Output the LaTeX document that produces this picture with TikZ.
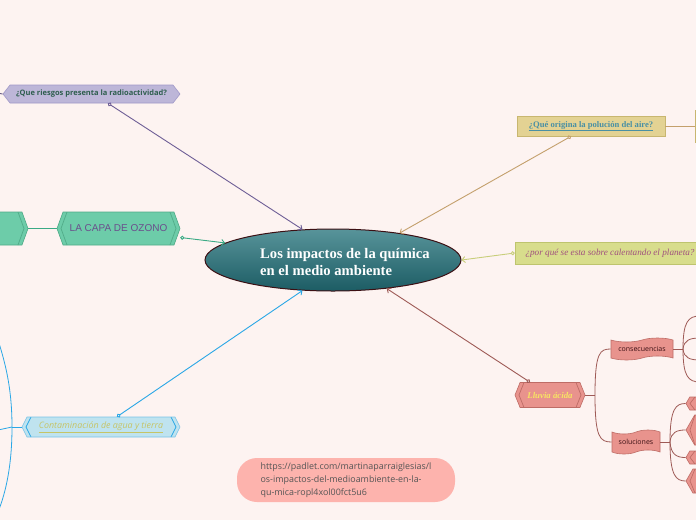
\documentclass[tikz,border=0pt]{standalone}
\usepackage{fontspec}
\setmainfont{Liberation Serif}
\newfontfamily\sansfuente{Open Sans}
\newfontfamily\rotulofuente{Liberation Sans}
\usepackage{tikz}
\usetikzlibrary{
  shapes.geometric,
  shapes.symbols,
  arrows.meta,
  positioning
}
\definecolor{Fondo}{RGB}{253, 243, 241}
\definecolor{TealTop}{RGB}{88, 148, 154}
\definecolor{TealBottom}{RGB}{28, 92, 100}
\definecolor{Granate}{RGB}{60, 16, 20}
\definecolor{Lavanda}{RGB}{189, 182, 216}
\definecolor{LavandaBorde}{RGB}{160, 152, 200}
\definecolor{LavandaLinea}{RGB}{110, 94, 150}
\definecolor{VerdeOscuro}{RGB}{46, 94, 78}
\definecolor{Menta}{RGB}{109, 204, 169}
\definecolor{MentaBorde}{RGB}{80, 170, 135}
\definecolor{MentaLinea}{RGB}{59, 170, 133}
\definecolor{Morado}{RGB}{107, 78, 140}
\definecolor{Caqui}{RGB}{227, 210, 147}
\definecolor{CaquiBorde}{RGB}{200, 182, 112}
\definecolor{CaquiLinea}{RGB}{196, 160, 108}
\definecolor{AzulTexto}{RGB}{74, 144, 164}
\definecolor{Lima}{RGB}{216, 221, 140}
\definecolor{LimaBorde}{RGB}{190, 196, 110}
\definecolor{LimaLinea}{RGB}{200, 206, 122}
\definecolor{Ciruela}{RGB}{160, 80, 126}
\definecolor{Salmon}{RGB}{232, 147, 141}
\definecolor{SalmonBorde}{RGB}{190, 108, 102}
\definecolor{SalmonLinea}{RGB}{158, 90, 86}
\definecolor{Amarillo}{RGB}{247, 228, 99}
\definecolor{Celeste}{RGB}{191, 227, 239}
\definecolor{CelesteBorde}{RGB}{120, 195, 232}
\definecolor{AzulLinea}{RGB}{42, 167, 230}
\definecolor{Oliva}{RGB}{198, 196, 102}
\definecolor{Rosa}{RGB}{253, 179, 173}
\definecolor{GrisTexto}{RGB}{85, 85, 85}
\tikzset{
    hexa/.style={signal, signal to=east and west, draw, inner sep=0pt, line width=0.6pt},
    chevron/.style 2 args={path picture={
        \draw[#1, line width=0.7pt]
          ([xshift=#2+4pt]path picture bounding box.north west) -- ([xshift=4pt]path picture bounding box.west) -- ([xshift=#2+4pt]path picture bounding box.south west)
          ([xshift=-#2-4pt]path picture bounding box.north east) -- ([xshift=-4pt]path picture bounding box.east) -- ([xshift=-#2-4pt]path picture bounding box.south east);
    }},
    caja/.style={rectangle, draw, inner sep=0pt, line width=0.6pt},
    cinta/.style={tape, draw=SalmonBorde, fill=Salmon, line width=0.6pt, tape bend height=4pt, inner sep=0pt,
        font=\sansfuente\fontsize{7}{8}\selectfont, text=Granate},
    conector/.style={line width=0.9pt, {Circle[open, length=4pt, width=4pt]}-{Straight Barb[length=3pt, width=6pt]}},
    rama/.style={line width=0.8pt}
}

\begin{document}
\begin{tikzpicture}[x=1pt, y=-1pt]
    \useasboundingbox (0,0) rectangle (696,520);
    \fill[Fondo] (0,0) rectangle (696,520);
    \clip (0,0) rectangle (696,520);

    % centro
    \node[ellipse, draw=Granate, line width=1pt, top color=TealTop, bottom color=TealBottom,
          minimum width=256pt, minimum height=62pt] (elipse) at (333,260) {};
    \node[align=left, text=white, font=\bfseries\fontsize{14.6}{17}\selectfont] (titulo) at (345,262)
        {Los impactos de la química\\en el medio ambiente};

    % ramas principales
    \node[hexa, fill=Lavanda, draw=LavandaBorde, signal pointer angle=104, minimum width=177pt, minimum height=18pt,
          font=\sansfuente\bfseries\fontsize{7.5}{8}\selectfont, text=VerdeOscuro] (radio) at (91.5,94)
        {¿Que riesgos presenta la radioactividad?};
    \node[hexa, fill=Menta, draw=MentaBorde, chevron={MentaBorde}{6pt}, signal pointer angle=140,
          minimum width=123pt, minimum height=33pt,
          font=\rotulofuente\fontsize{10}{11}\selectfont, text=Morado] (ozono) at (118.5,228.5)
        {LA CAPA DE OZONO};
    \node[hexa, fill=Menta, draw=MentaBorde, chevron={MentaBorde}{6pt}, signal pointer angle=140,
          minimum width=116pt, minimum height=33pt] (ozonoPrev) at (-30,228.5) {};
    \node[caja, fill=Caqui, draw=CaquiBorde, minimum width=148pt, minimum height=20pt,
          font=\bfseries\fontsize{8.6}{9}\selectfont, text=AzulTexto] (aire) at (591,126)
        {\underline{¿Qué origina la polución del aire?}};
    \node[caja, fill=Caqui, draw=CaquiBorde, minimum width=100pt, minimum height=32pt] (aireSig) at (745,126) {};
    \node[caja, fill=Lima, draw=LimaBorde, minimum width=190pt, minimum height=22pt,
          font=\itshape\fontsize{9.2}{10}\selectfont, text=Ciruela] (planeta) at (610,253)
        {¿por qué se esta sobre calentando el planeta?};
    \node[hexa, fill=Salmon, draw=SalmonBorde, chevron={SalmonBorde}{5pt}, signal pointer angle=136,
          minimum width=70pt, minimum height=25pt,
          font=\bfseries\itshape\fontsize{8.8}{9}\selectfont, text=Amarillo] (lluvia) at (550,395)
        {Lluvia ácida};
    \node[hexa, fill=Celeste, draw=CelesteBorde, chevron={AzulLinea}{5pt}, signal pointer angle=127,
          minimum width=158pt, minimum height=20pt,
          font=\sansfuente\itshape\fontsize{8.9}{9}\selectfont, text=Oliva] (agua) at (101,427)
        {\underline{Contaminación de agua y tierra}};

    % subramas de la lluvia
    \node[cinta, minimum width=62pt, minimum height=22pt] (consecuencias) at (642,349) {consecuencias};
    \node[cinta, minimum width=48pt, minimum height=24pt] (soluciones) at (636,442) {soluciones};
    \foreach \n/\y/\h in {s1/403.5/13, s2/430/30, s3/457.5/13, s4/481/24}
        \node[hexa, fill=Salmon, draw=SalmonBorde, chevron={SalmonBorde}{5pt}, signal pointer angle=120,
              minimum width=40pt, minimum height=\h pt] (\n) at (706,\y) {};

    \node[rounded corners=20pt, fill=Rosa, minimum width=218pt, minimum height=44pt, align=left,
          text=GrisTexto, font=\sansfuente\fontsize{8.9}{13}\selectfont] (enlace) at (346,480)
        {https://padlet.com/martinaparraiglesias/l\\os-impactos-del-medioambiente-en-la-\\qu-mica-ropl4xol00fct5u6};

    % conectores al centro
    \draw[conector, LavandaLinea] ([xshift=16.5pt]radio.south) -- (elipse.135);
    \draw[conector, MentaLinea] ([yshift=-9pt]ozono.east) -- (elipse.171);
    \draw[conector, CaquiLinea] ([xshift=-20pt]aire.south) -- (elipse.22);
    \draw[conector, LimaLinea] (planeta.west) -- (elipse.east);
    \draw[conector, SalmonLinea] ([xshift=-20pt]lluvia.north) -- (elipse.-28);
    \draw[conector, AzulLinea] ([xshift=16pt]agua.north) -- (elipse.-135);

    % ramas hacia afuera
    \coordinate (radioPrev) at (-3,93);
    \draw[rama, LavandaLinea!80!black] (radio.west) -- (radioPrev);
    \draw[rama, MentaLinea] (ozonoPrev.east) -- (ozono.west);
    \draw[rama, CaquiLinea] (aire.east) -- (aireSig.west);

    \coordinate (nudoAgua) at (12,427);
    \coordinate (aguaA) at (-2,340);
    \coordinate (aguaB) at (-2,430);
    \coordinate (aguaC) at (-2,512);
    \draw[rama, AzulLinea] (agua.west) -- (nudoAgua);
    \draw[rama, AzulLinea] (nudoAgua) .. controls (12,390) and (6,365) .. (aguaA);
    \draw[rama, AzulLinea] (nudoAgua) -- (aguaB);
    \draw[rama, AzulLinea] (nudoAgua) .. controls (12,465) and (6,492) .. (aguaC);

    \coordinate (nudoLluvia) at (595,395);
    \draw[rama, SalmonLinea] (lluvia.east) -- (nudoLluvia);
    \draw[rama, SalmonLinea] (nudoLluvia) .. controls (595,352) and (600,349) .. (consecuencias.west);
    \draw[rama, SalmonLinea] (nudoLluvia) .. controls (595,438) and (600,442) .. (soluciones.west);

    \coordinate (nudoCons) at (683,349);
    \coordinate (c1) at (700,316);
    \coordinate (c2) at (700,338);
    \coordinate (c3) at (700,360);
    \coordinate (c4) at (700,382);
    \draw[rama, SalmonLinea] (consecuencias.east) -- (nudoCons);
    \draw[rama, SalmonLinea] (nudoCons) .. controls (683,322) and (688,316) .. (c1);
    \draw[rama, SalmonLinea] (nudoCons) .. controls (684,340) and (690,338) .. (c2);
    \draw[rama, SalmonLinea] (nudoCons) .. controls (684,358) and (690,360) .. (c3);
    \draw[rama, SalmonLinea] (nudoCons) .. controls (683,376) and (688,382) .. (c4);

    \coordinate (nudoSol) at (670,442);
    \draw[rama, SalmonLinea] (soluciones.east) -- (nudoSol);
    \draw[rama, SalmonLinea] (nudoSol) .. controls (670,408) and (676,403.5) .. (s1.west);
    \draw[rama, SalmonLinea] (nudoSol) .. controls (671,432) and (677,430) .. (s2.west);
    \draw[rama, SalmonLinea] (nudoSol) .. controls (671,455) and (677,457.5) .. (s3.west);
    \draw[rama, SalmonLinea] (nudoSol) .. controls (670,476) and (676,481) .. (s4.west);
\end{tikzpicture}
\end{document}
